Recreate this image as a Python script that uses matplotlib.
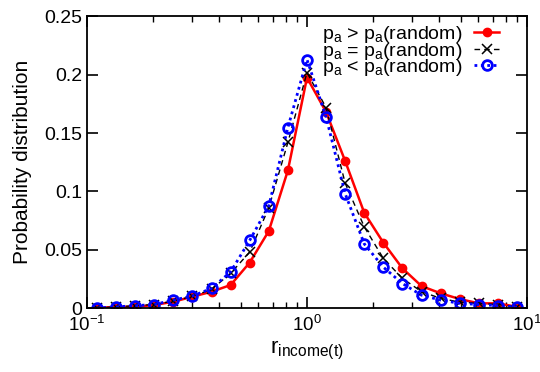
import matplotlib
matplotlib.use("Agg")
import matplotlib.pyplot as plt
import numpy as np
from matplotlib.ticker import LogLocator, FixedLocator, NullFormatter

plt.rcParams['font.family'] = ['Liberation Sans', 'DejaVu Sans']
plt.rcParams['mathtext.fontset'] = 'custom'
plt.rcParams['mathtext.rm'] = 'Liberation Sans'
plt.rcParams['mathtext.it'] = 'Liberation Sans:italic'
plt.rcParams['mathtext.default'] = 'regular'

# bins: log-spaced, 9^(k/11) for k = -11..11
k = np.arange(-11, 12)
r_income = 9.0 ** (k / 11.0)

p_higher = [0.000, 0.001, 0.001, 0.0026, 0.0054, 0.0097, 0.014, 0.0197, 0.039, 0.066, 0.118,
            0.1975, 0.168, 0.126, 0.0816, 0.056, 0.034, 0.0188, 0.0126, 0.0077, 0.004, 0.004, 0.001]
p_equal = [0.000, 0.001, 0.002, 0.003, 0.006, 0.010, 0.016, 0.0297, 0.048, 0.086, 0.142,
           0.2018, 0.1718, 0.107, 0.0696, 0.0425, 0.0254, 0.014, 0.0083, 0.005, 0.004, 0.003, 0.001]
p_lower = [0.000, 0.001, 0.002, 0.003, 0.0068, 0.0103, 0.0168, 0.031, 0.058, 0.0876, 0.1547,
           0.213, 0.1638, 0.098, 0.055, 0.035, 0.021, 0.011, 0.0068, 0.004, 0.003, 0.002, 0.001]

labels = [r'p$_a$ > p$_a$(random)', r'p$_a$ = p$_a$(random)', r'p$_a$ < p$_a$(random)']

fig = plt.figure(figsize=(5.4, 3.72), dpi=100)
ax = fig.add_axes([0.161, 0.172, 0.815, 0.784])

ax.plot(r_income, p_higher, color='#ff0000', lw=1.8, ls='-', marker='o', ms=6,
        mfc='#ff0000', mec='#ff0000', label=labels[0])
ax.plot(r_income, p_equal, color='black', lw=1.0, ls=(0, (4, 3)), marker='x', ms=7,
        mew=1.1, label=labels[1])
ax.plot(r_income, p_lower, color='#0000ff', lw=2.0, ls=(0, (1, 1.3)), marker='o', ms=7,
        mfc='none', mec='#0000ff', mew=2.0, label=labels[2])

ax.set_xscale('log')
ax.set_xlim(0.1, 10)
ax.set_ylim(0, 0.25)
ax.yaxis.set_major_locator(FixedLocator([0, 0.05, 0.1, 0.15, 0.2, 0.25]))
ax.set_yticklabels(['0', '0.05', '0.1', '0.15', '0.2', '0.25'])
ax.xaxis.set_major_locator(LogLocator(base=10))
ax.xaxis.set_minor_locator(LogLocator(base=10, subs=np.arange(2, 10)))
ax.xaxis.set_minor_formatter(NullFormatter())

ax.tick_params(which='both', direction='in', top=True, right=True, labelsize=14)
ax.tick_params(axis='x', which='major', pad=5, labelsize=13.5)
ax.tick_params(which='major', length=8, width=1.2)
ax.tick_params(which='minor', length=4.5, width=1.0)
for s in ax.spines.values():
    s.set_linewidth(1.3)

ax.set_xlabel(r'r$_{income(t)}$', fontsize=16, labelpad=3)
ax.set_ylabel('Probability distribution', fontsize=15, labelpad=9)

ax.legend(loc='upper right', bbox_to_anchor=(0.955, 1.0), frameon=False, fontsize=14,
          markerfirst=False, handlelength=1.3, handletextpad=0.6, labelspacing=-0.23,
          borderaxespad=0.2, borderpad=0.2)

fig.savefig('out.png', dpi=100)
